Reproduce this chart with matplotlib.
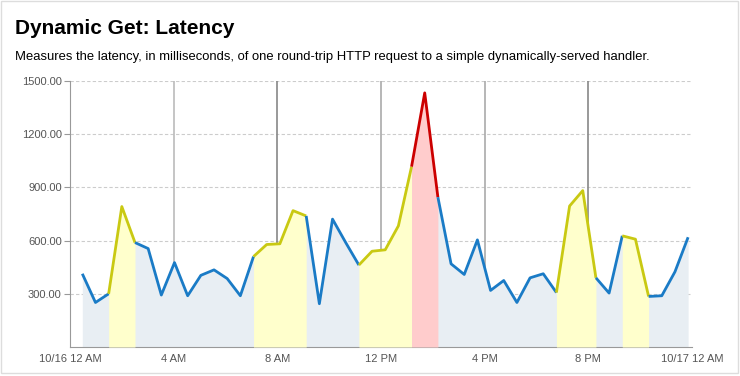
import matplotlib
matplotlib.use('Agg')
import matplotlib.pyplot as plt
import numpy as np

### DATA ###
# sample times, hours after 10/16 12 AM (one sample about every 30 min)
hours = np.linspace(0.475, 23.85, 47)
latency = [413, 251, 300, 792, 589, 555, 293, 476, 289, 404,
           435, 386, 289, 510, 578, 582, 769, 739, 244, 721,
           589, 462, 540, 548, 683, 1017, 1433, 845, 469, 409,
           604, 319, 375, 251, 390, 413, 307, 795, 882, 390,
           304, 627, 608, 285, 289, 424, 619]
# status of each segment between two samples
status = (['ok'] * 2 + ['warn'] * 2 + ['ok'] * 9 + ['warn'] * 4 + ['ok'] * 4
          + ['warn'] * 4 + ['bad'] * 2 + ['ok'] * 9 + ['warn'] * 3 + ['ok'] * 2
          + ['warn'] * 2 + ['ok'] * 3)

tick_hours = [0, 4, 8, 12, 16, 20, 24]
tick_labels = ['10/16 12 AM', '4 AM', '8 AM', '12 PM', '4 PM', '8 PM', '10/17 12 AM']
y_ticks = [300, 600, 900, 1200, 1500]

line_col = {'ok': '#1a7bc6', 'warn': '#c9c912', 'bad': '#cc0000'}
fill_col = {'ok': '#e8eef3', 'warn': '#ffffcc', 'bad': '#ffcccc'}

plt.rcParams['font.family'] = ['Liberation Sans', 'DejaVu Sans']

### FIGURE ###
fig = plt.figure(figsize=(7.4, 3.76), dpi=100)
ax = fig.add_axes([70 / 740, 1 - 347 / 376, 622 / 740, 266 / 376])

# vertical hour markers, behind the fills
for h, c in zip([4, 8, 12, 16, 20], ['#bbbbbb', '#888888', '#aaaaaa', '#aaaaaa', '#888888']):
    ax.axvline(h, color=c, lw=1.2, zorder=1)

# group consecutive segments with the same status into runs
runs = []
start = 0
for i in range(1, len(status) + 1):
    if i == len(status) or status[i] != status[start]:
        runs.append((start, i, status[start]))
        start = i

ax.fill_between(hours, 0, latency, color=fill_col['ok'], lw=0, zorder=2)
for a, b, s in runs:
    xs = hours[a:b + 1]
    ys = latency[a:b + 1]
    if s != 'ok':
        ax.fill_between(xs, 0, ys, color=fill_col[s], lw=0, zorder=3)
    ax.plot(xs, ys, color=line_col[s], lw=2, solid_capstyle='butt', zorder=4)

ax.set_xlim(0, 24)
ax.set_ylim(0, 1500)
ax.set_yticks(y_ticks)
ax.set_yticklabels(['%.2f' % v for v in y_ticks])
ax.set_xticks(tick_hours)
ax.set_xticklabels(tick_labels)
ax.yaxis.grid(True, color='#cccccc', ls=(0, (3, 2)), lw=0.8)
ax.set_axisbelow(True)
for sp in ['top', 'right']:
    ax.spines[sp].set_visible(False)
for sp in ['left', 'bottom']:
    ax.spines[sp].set_color('#999999')
ax.tick_params(axis='y', length=4, color='#999999', labelsize=8, labelcolor='#555555', pad=2)
ax.tick_params(axis='x', length=0, labelsize=8, labelcolor='#555555', pad=5)

fig.text(15 / 740, 1 - 28 / 376, 'Dynamic Get: Latency', fontsize=15, fontweight='bold', va='center')
fig.text(15 / 740, 1 - 57 / 376,
         'Measures the latency, in milliseconds, of one round-trip HTTP request to a simple dynamically-served handler.',
         fontsize=9.4, va='center')

# light frame around the widget
fig.patches.append(plt.Rectangle((1 / 740, 3 / 376), 737 / 740, 372 / 376, transform=fig.transFigure,
                                 fill=False, ec='#dddddd', lw=1))

fig.savefig('out.png', dpi=100)
